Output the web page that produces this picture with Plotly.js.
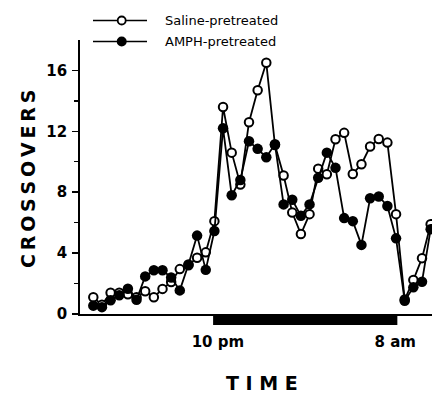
<!DOCTYPE html>
<html>
<head>
<meta charset="utf-8">
<script src="https://cdn.plot.ly/plotly-3.0.1.min.js"></script>
<style>html,body{margin:0;padding:0;background:#fff;}#chart{width:432px;height:397px;}</style>
</head>
<body>
<div id="chart"></div>
<script>
// Time bins (index of each sampling interval)
const timeIndex = Array.from({length: 40}, (_, i) => i);
// Crossovers per bin
const salineValues = [1.1, 0.6, 1.4, 1.4, 1.3, 1.1, 1.5, 1.1, 1.65, 2.1,
  2.95, 3.2, 3.7, 4.05, 6.1, 13.6, 10.6, 8.5, 12.6, 14.7,
  16.5, 11.1, 9.1, 6.67, 5.25, 6.56, 9.55, 9.18, 11.48, 11.9,
  9.2, 9.84, 11.0, 11.5, 11.26, 6.56, 0.95, 2.23, 3.67, 5.9];
const amphValues = [0.55, 0.45, 0.9, 1.23, 1.66, 0.94, 2.47, 2.87, 2.87, 2.4,
  1.55, 3.25, 5.15, 2.9, 5.45, 12.2, 7.8, 8.8, 11.35, 10.85,
  10.3, 11.15, 7.2, 7.5, 6.45, 7.2, 8.95, 10.6, 9.6, 6.3,
  6.1, 4.54, 7.6, 7.72, 7.1, 4.97, 0.87, 1.75, 2.12, 5.57];
const seriesNames = ['Saline-pretreated', 'AMPH-pretreated'];
// x tick labels and dark-phase bar
const timeTickVals = [14.4, 34.9];
const timeTickText = ['10 pm', '8 am'];
const darkStart = 13.85, darkEnd = 35.15;
const yTickVals = [0, 4, 8, 12, 16];

const W = 432, H = 397, L = 80, R = 0, T = 40, B = 83;
const pw = W - L - R, ph = H - T - B;
const px = p => (p - L) / pw;
const py = p => (H - B - p) / ph;

const NB = '\u00A0', TH = '\u2009';

const traces = [
  {x: timeIndex, y: salineValues, name: seriesNames[0], type: 'scatter', mode: 'lines+markers',
   line: {color: '#000', width: 1.8},
   marker: {symbol: 'circle', size: 8.5, color: '#fff', line: {color: '#000', width: 2}}},
  {x: timeIndex, y: amphValues, name: seriesNames[1], type: 'scatter', mode: 'lines+markers',
   line: {color: '#000', width: 1.8},
   marker: {symbol: 'circle', size: 10.5, color: '#000', line: {color: '#000', width: 0}}}
];

const legendY = [20.5, 41.5];
const shapes = [
  {type: 'rect', xref: 'x', yref: 'paper', x0: darkStart, x1: darkEnd, y0: -11 / ph, y1: 0,
   fillcolor: '#000', line: {width: 0}, layer: 'above'}
];
const annotations = [];
seriesNames.forEach((n, k) => {
  shapes.push({type: 'line', xref: 'paper', yref: 'paper', x0: px(93), x1: px(147),
    y0: py(legendY[k]), y1: py(legendY[k]), line: {color: '#000', width: 1.5}});
  shapes.push({type: 'circle', xref: 'paper', yref: 'paper', xsizemode: 'pixel', ysizemode: 'pixel',
    xanchor: px(121.7), yanchor: py(legendY[k]),
    x0: k === 0 ? -4 : -5, x1: k === 0 ? 4 : 5, y0: k === 0 ? -4 : -5, y1: k === 0 ? 4 : 5,
    fillcolor: k === 0 ? '#fff' : '#000', line: {color: '#000', width: k === 0 ? 1.8 : 0}});
  annotations.push({text: n, xref: 'paper', yref: 'paper', x: px(163), y: py(legendY[k] - 0.5),
    xanchor: 'left', yanchor: 'middle', showarrow: false,
    font: {family: 'DejaVu Sans', size: 13, color: '#000'}});
});
annotations.push({text: 'CROSSOVERS'.split('').join(TH), xref: 'paper', yref: 'paper',
  x: px(28), y: py(179), textangle: -90, showarrow: false, xanchor: 'center', yanchor: 'middle',
  font: {family: 'DejaVu Sans', size: 19, weight: 700, color: '#000'}});
annotations.push({text: 'TIME'.split('').join(NB), xref: 'paper', yref: 'paper',
  x: px(262), y: py(383), showarrow: false, xanchor: 'center', yanchor: 'middle',
  font: {family: 'DejaVu Sans', size: 19, weight: 700, color: '#000'}});

const layout = {
  width: W, height: H,
  margin: {l: L, r: R, t: T, b: B, pad: 0},
  paper_bgcolor: '#fff', plot_bgcolor: '#fff',
  showlegend: false,
  xaxis: {range: [-13.3 / 8.65, (W - R - 93.3) / 8.65], showgrid: false, zeroline: false,
    showline: true, linecolor: '#000', linewidth: 1.5, ticks: '',
    tickvals: timeTickVals, ticktext: timeTickText, ticklabelstandoff: 13,
    tickfont: {family: 'DejaVu Sans', size: 15, weight: 700, color: '#000'}},
  yaxis: {range: [0, 18], showgrid: false, zeroline: false,
    showline: true, linecolor: '#000', linewidth: 1.8,
    ticks: 'outside', ticklen: 6, tickwidth: 1.5, tickcolor: '#000',
    tickvals: yTickVals, ticklabelstandoff: 2,
    minor: {tickvals: [2, 6, 10, 14], ticks: 'outside', ticklen: 4, tickwidth: 1.3, tickcolor: '#000'},
    tickfont: {family: 'DejaVu Sans', size: 15, weight: 700, color: '#000'}},
  shapes: shapes,
  annotations: annotations
};

Plotly.newPlot('chart', traces, layout, {staticPlot: true, displayModeBar: false});
</script>
</body>
</html>
